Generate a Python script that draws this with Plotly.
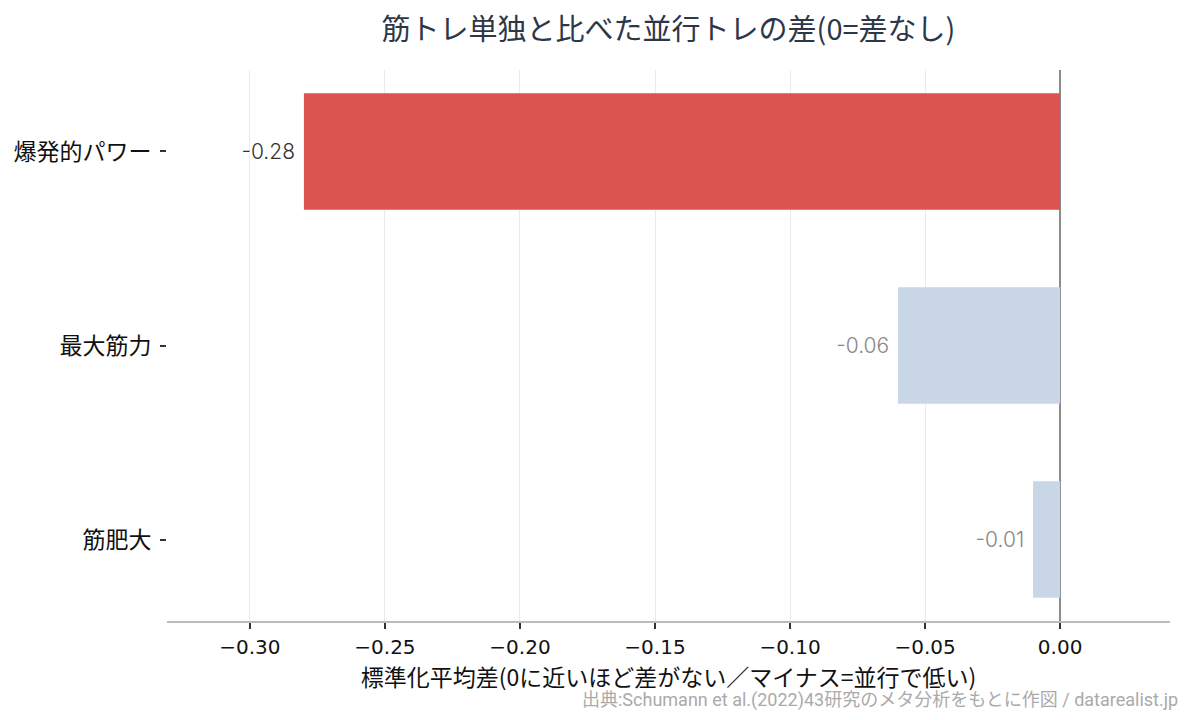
import plotly.graph_objects as go

categories = ["筋肥大", "最大筋力", "爆発的パワー"]
values = [-0.01, -0.06, -0.28]
labels = ["-0.01 ", "-0.06 ", "-0.28 "]
bar_colors = ["#c9d6e8", "#c9d6e8", "#db5450"]
label_colors = ["#888888", "#888888", "#333333"]
tick_vals = [-0.30, -0.25, -0.20, -0.15, -0.10, -0.05, 0.00]

fig = go.Figure()
fig.add_trace(go.Bar(
    y=categories, x=values, orientation="h",
    marker=dict(color=bar_colors, line=dict(width=0)),
    width=0.6,
    text=labels, textposition="outside",
    textfont=dict(family="Inter, Noto Sans, sans-serif", size=21, weight=300, color=label_colors),
    cliponaxis=False,
    hoverinfo="skip",
))

fig.update_layout(
    width=1195, height=720,
    margin=dict(l=167, r=25, t=70, b=99),
    plot_bgcolor="white", paper_bgcolor="white",
    showlegend=False,
    title=dict(text="筋トレ単独と比べた並行トレの差(0=差なし)",
               x=0.5, xref="paper", xanchor="center", y=0.958, yanchor="middle",
               font=dict(family="Noto Sans CJK JP", size=29, color="#2d3748")),
    xaxis=dict(
        range=[-0.3307, 0.0407],
        tickvals=tick_vals, tickformat=".2f",
        showgrid=True, gridcolor="#ebebeb", gridwidth=1,
        zeroline=True, zerolinecolor="#8c8c8c", zerolinewidth=2,
        showline=True, linecolor="#bbbbbb", linewidth=1.5,
        ticks="outside", ticklen=6, tickcolor="#333333", tickwidth=1.5,
        tickfont=dict(family="DejaVu Sans", size=20, color="#111111"),
        ticklabelstandoff=1,
        title=dict(text="標準化平均差(0に近いほど差がない／マイナス=並行で低い)",
                   font=dict(family="Noto Sans CJK JP", size=23, color="#111111"),
                   standoff=5),
    ),
    yaxis=dict(
        range=[-0.42, 2.42],
        showgrid=False, zeroline=False, showline=False,
        ticks="outside", ticklen=6, tickcolor="#333333", tickwidth=1.5,
        ticklabelstandoff=4,
        tickfont=dict(family="Noto Sans CJK JP", size=23, color="#111111"),
    ),
    annotations=[dict(
        text="出典:Schumann et al.(2022)43研究のメタ分析をもとに作図 / datarealist.jp",
        xref="paper", yref="paper", x=1.0097, y=-0.143, xanchor="right", yanchor="middle",
        showarrow=False,
        font=dict(family="Roboto, Noto Sans CJK JP", size=18, color="#aaaaaa"),
    )],
)

fig.write_html("out.html")
